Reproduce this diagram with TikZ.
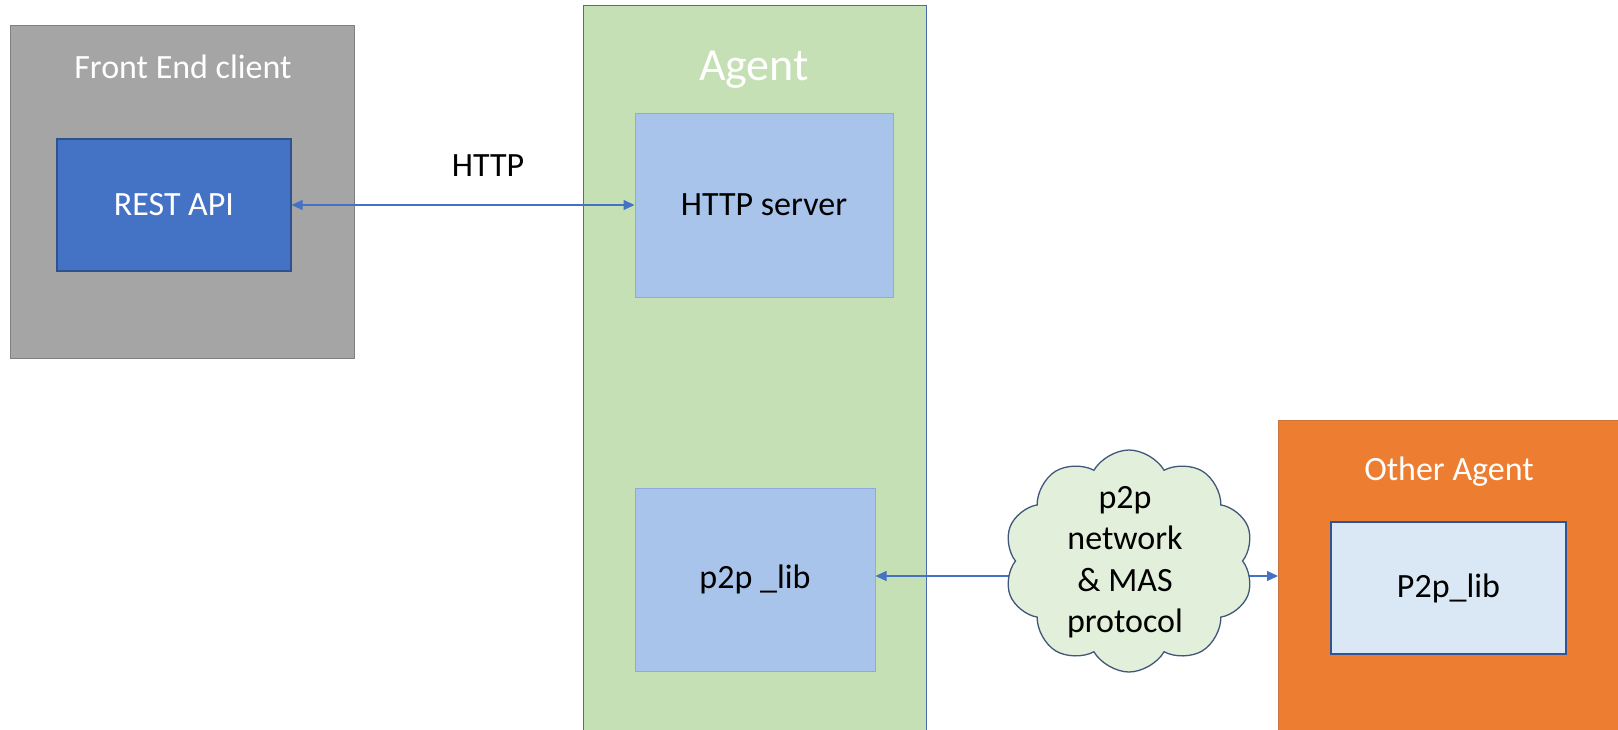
\documentclass[tikz,border=0pt]{standalone}
\usepackage{fontspec}
\setmainfont{Carlito}
\usetikzlibrary{arrows.meta,shapes.symbols}
\pgfdeclarelayer{top}
\pgfsetlayers{main,top}
\definecolor{fegray}{HTML}{A5A5A5}
\definecolor{feborder}{HTML}{7F7F7F}
\definecolor{restblue}{HTML}{4472C4}
\definecolor{restborder}{HTML}{2F528F}
\definecolor{agentgreen}{HTML}{C5E0B4}
\definecolor{agentborder}{HTML}{4A6BB0}
\definecolor{innerblue}{HTML}{A8C4EA}
\definecolor{innerborder}{HTML}{8FAADC}
\definecolor{cloudfill}{HTML}{E2EFDA}
\definecolor{cloudborder}{HTML}{41577A}
\definecolor{otherorange}{HTML}{ED7D31}
\definecolor{otherborder}{HTML}{C8763E}
\definecolor{libfill}{HTML}{DAE8F6}
\definecolor{libborder}{HTML}{2F5597}
\definecolor{arrowblue}{HTML}{4472C4}
\tikzset{
  box/.style={rectangle, inner sep=0pt, anchor=north west},
  outerfe/.style={box, fill=fegray, draw=feborder, line width=1.2pt},
  outeragent/.style={box, fill=agentgreen, draw=agentborder, line width=1.2pt},
  outerother/.style={box, fill=otherorange, draw=otherborder, line width=1.2pt},
  title/.style={text=white, font=\fontsize{34}{41}\selectfont},
  bigtitle/.style={text=white, font=\fontsize{46}{55}\selectfont},
  lbl/.style={font=\fontsize{34}{41.5}\selectfont, align=center},
  conn/.style={draw=arrowblue, line width=1.1pt}
}
\begin{document}
\begin{tikzpicture}[x=1pt,y=-1pt]
\useasboundingbox (0,0) rectangle (1618,729);
\clip (0,0) rectangle (1618,729);
% Front end client
\node[outerfe, minimum width=344pt, minimum height=333pt] (fe) at (10,25) {};
\node[title] (fetitle) at (183,67) {Front End client};
\node[rectangle, inner sep=0pt, fill=restblue, draw=restborder, line width=1.2pt,
      minimum width=234pt, minimum height=132pt, text=white, lbl] (rest) at (174,205) {REST API};
% Agent
\node[outeragent, minimum width=343pt, minimum height=740pt] (agent) at (583,5) {};
\node[bigtitle] (agenttitle) at (754,70) {Agent};
\node[rectangle, inner sep=0pt, fill=innerblue, draw=innerborder, line width=1pt,
      minimum width=258pt, minimum height=184pt, lbl] (http) at (764,205) {HTTP server};
\node[rectangle, inner sep=0pt, fill=innerblue, draw=innerborder, line width=1pt,
      minimum width=240pt, minimum height=183pt, lbl] (p2plib) at (755,579.5) {p2p \_lib};
% Cloud
\begin{pgfonlayer}{top}
\node[cloud, cloud puffs=10, cloud puff arc=120, cloud ignores aspect, inner sep=0pt,
      minimum width=250pt, minimum height=222pt, fill=cloudfill, draw=cloudborder,
      line width=1.3pt] (cloud) at (1129,561) {};
\node[lbl] (cloudtext) at (1125,562) {p2p\\network\\\& MAS\\protocol};
\end{pgfonlayer}
% Other agent
\node[outerother, minimum width=360pt, minimum height=330pt] (other) at (1278,420) {};
\node[title] (othertitle) at (1449,472) {Other Agent};
\node[rectangle, inner sep=0pt, fill=libfill, draw=libborder, line width=1.2pt,
      minimum width=235pt, minimum height=132pt, lbl] (otherlib) at (1448.5,588) {P2p\_lib};
% HTTP label
\node[lbl] (httplbl) at (488,166) {HTTP};
% Connectors
\draw[conn, {Triangle[length=11pt,width=10pt]}-{Triangle[length=11pt,width=10pt]}] (rest.east) -- (http.west);
\coordinate (ly) at (0,576);
\draw[conn, {Triangle[length=11pt,width=10pt]}-] (p2plib.east |- ly) -- (cloud.center |- ly);
\draw[conn, -{Triangle[length=11pt,width=10pt]}] (cloud.center |- ly) -- (other.west |- ly);
\end{tikzpicture}
\end{document}
